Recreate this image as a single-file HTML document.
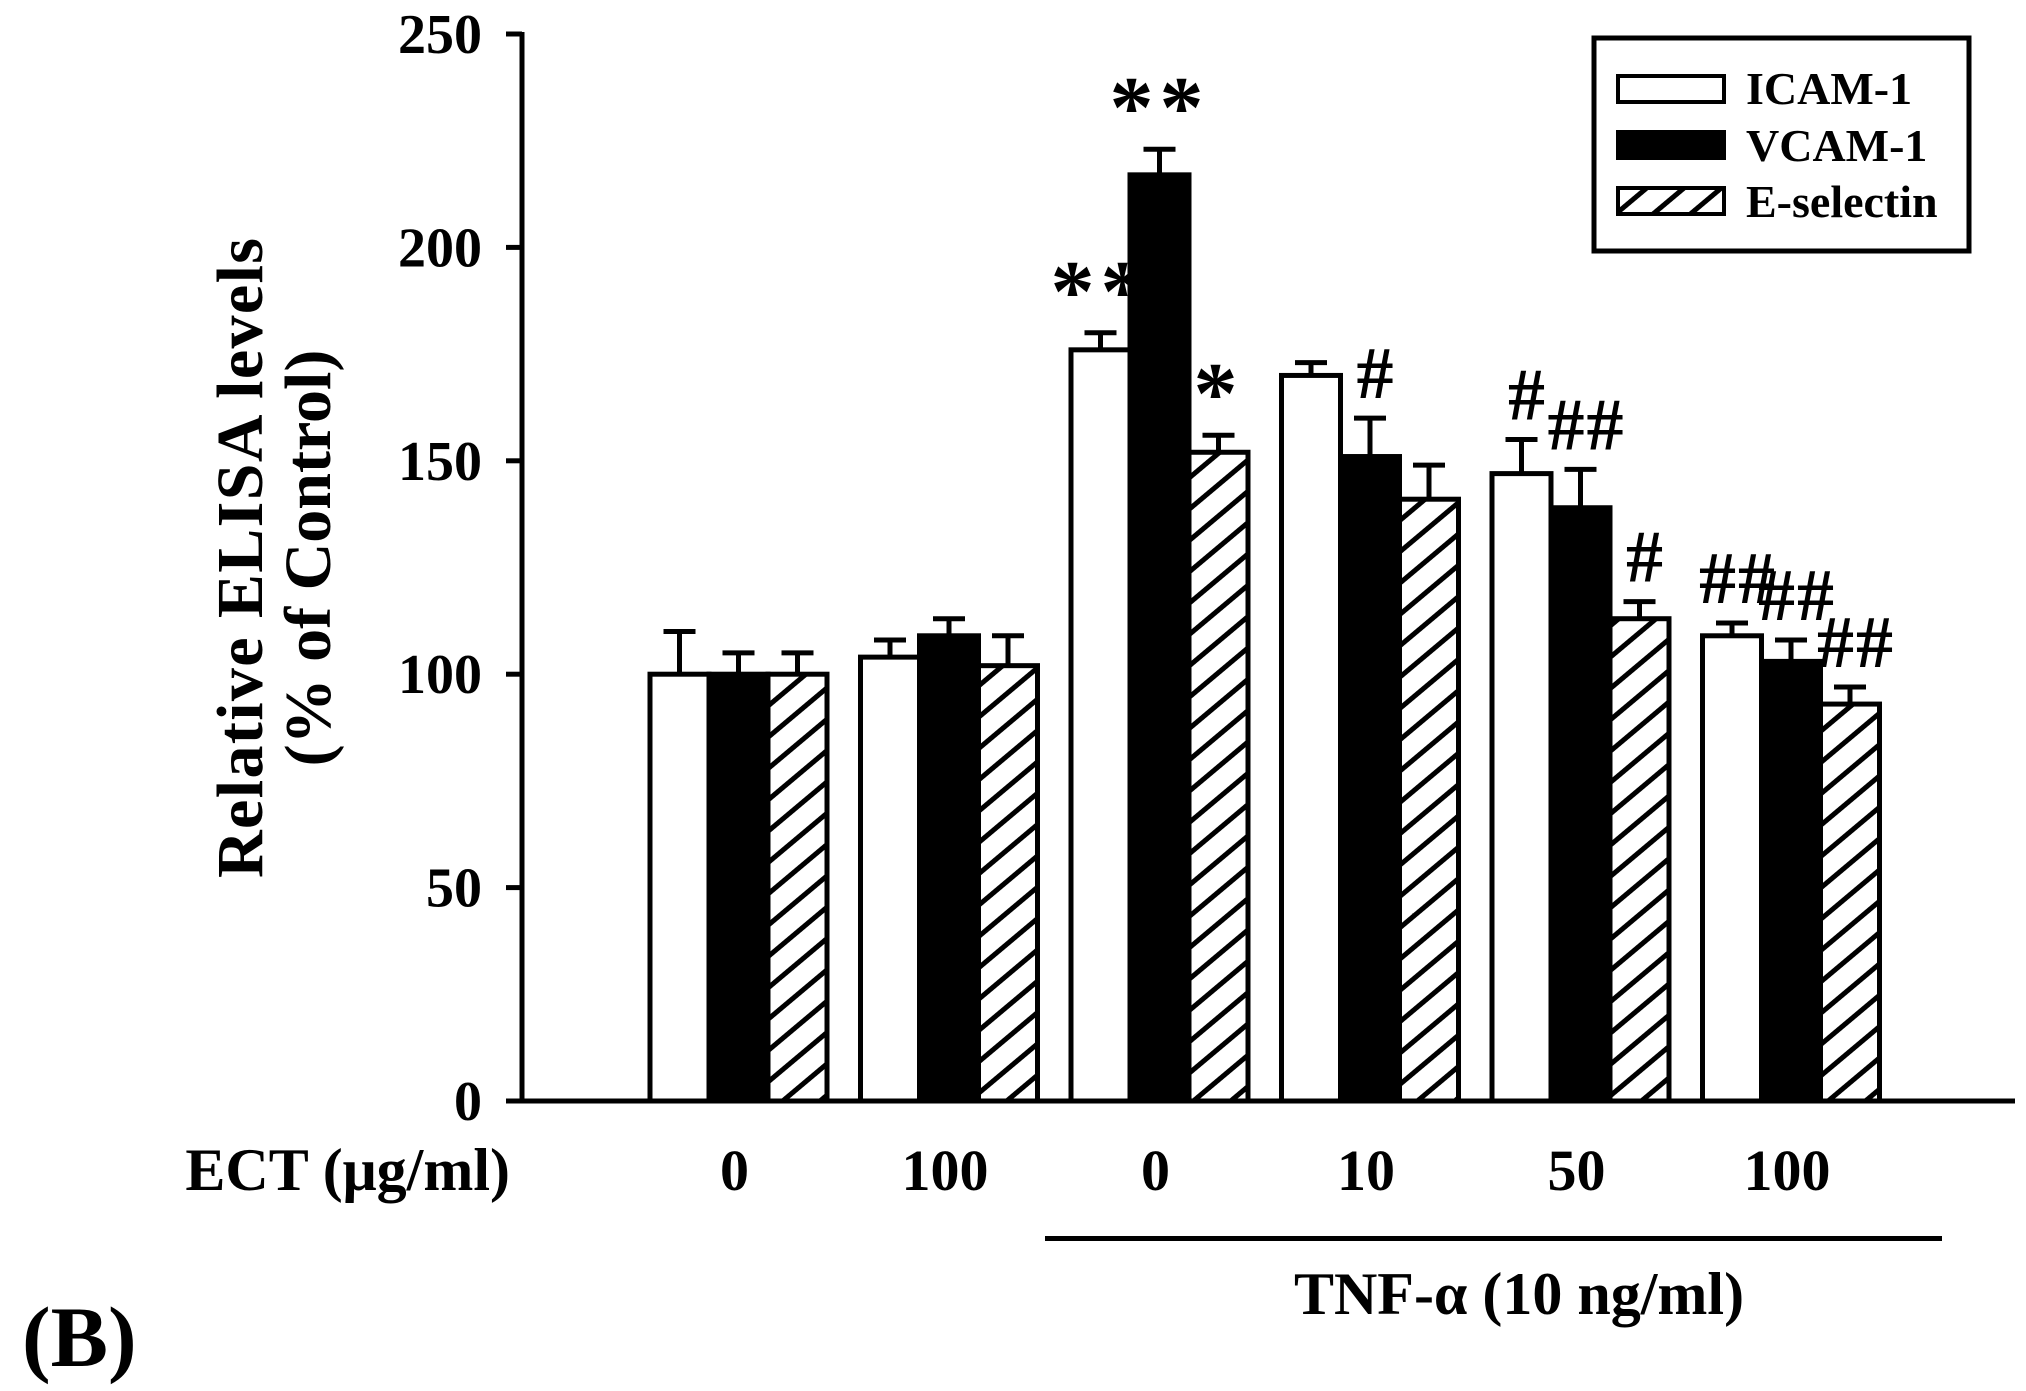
<!DOCTYPE html>
<html><head><meta charset="utf-8"><style>
html,body{margin:0;padding:0;background:#fff;}
svg{display:block;}
text{font-family:"Liberation Serif",serif;font-weight:bold;fill:#000;}
</style></head><body>
<svg id="chart" width="2026" height="1391" viewBox="0 0 2026 1391">
<defs>
<pattern id="hatch" patternUnits="userSpaceOnUse" width="24" height="24" patternTransform="rotate(-40)">
<rect width="24" height="24" fill="#fff"/>
<rect x="0" y="0" width="24" height="5" fill="#000"/>
</pattern>
</defs>
<g id="bars"></g>
<g id="axes"></g>
<g id="legend">
<rect x="1594" y="38" width="375" height="213" fill="#fff" stroke="#000" stroke-width="5"/>
<rect x="1618" y="76" width="106" height="26" fill="#fff" stroke="#000" stroke-width="4"/>
<text x="1746" y="104" font-size="46">ICAM-1</text>
<rect x="1618" y="132" width="106" height="26" fill="#000" stroke="#000" stroke-width="4"/>
<text x="1746" y="161" font-size="46">VCAM-1</text>
<rect x="1618" y="188" width="106" height="26" fill="url(#hatch)" stroke="#000" stroke-width="4"/>
<text x="1746" y="217" font-size="46">E-selectin</text>
</g>
<text transform="translate(262,558) rotate(-90)" text-anchor="middle" font-size="66" textLength="640">Relative ELISA levels</text>
<text transform="translate(330,558) rotate(-90)" text-anchor="middle" font-size="66">(% of Control)</text>
<text x="510" y="1190" text-anchor="end" font-size="60">ECT (μg/ml)</text>
<rect x="1045" y="1236" width="897" height="5" fill="#000"/>
<text x="1519" y="1314" text-anchor="middle" font-size="60">TNF-α (10 ng/ml)</text>
<text x="22" y="1366" font-size="86">(B)</text>
</svg>
<script>
const categories = ["0","100","0","10","50","100"];
const seriesNames = ["ICAM-1","VCAM-1","E-selectin"];
const icamValues = [100,104,176,170,147,109];
const vcamValues = [100,109,217,151,139,103];
const eselValues = [100,102,152,141,113,93];
const icamErr = [10,4,4,3,8,3];
const vcamErr = [5,4,6,9,9,5];
const eselErr = [5,7,4,8,4,4];
const icamSig = ["","","**","","#","##"];
const vcamSig = ["","","**","#","##","##"];
const eselSig = ["","","*","","#","##"];
const yTicks = [0,50,100,150,200,250];

const NS="http://www.w3.org/2000/svg";
const X0=522, Y0=1101, YTOP=34, YMAX=250;
const yScale=v=>Y0-(v/YMAX)*(Y0-YTOP);
const groupStart=i=>650+i*210.5;
const barW=59;
const xBar=(g,s)=>groupStart(g)+s*barW;
function mk(tag,attrs,parent){const e=document.createElementNS(NS,tag);for(const k in attrs)e.setAttribute(k,attrs[k]);parent.appendChild(e);return e;}
const bars=document.getElementById('bars');
const axes=document.getElementById('axes');
const vals=[icamValues,vcamValues,eselValues];
const errs=[icamErr,vcamErr,eselErr];
const sigs=[icamSig,vcamSig,eselSig];
const fills=["#fff","#000","url(#hatch)"];
const keys=["icam","vcam","eselectin"];
const sigLayer=[];
for(let s=0;s<3;s++){
  for(let g=0;g<categories.length;g++){
    const v=vals[s][g], x=xBar(g,s), y=yScale(v), cx=x+barW/2;
    const et=yScale(v+errs[s][g]);
    const ln=mk('line',{x1:cx,x2:cx,y1:y,y2:et,stroke:'#000','stroke-width':5},bars);
    
    
    const cap=mk('line',{x1:cx-16,x2:cx+16,y1:et,y2:et,stroke:'#000','stroke-width':5},bars);
    
    
    const r=mk('rect',{x:x,y:y,width:barW,height:Y0-y,fill:fills[s],stroke:'#000','stroke-width':5},bars);
    
    
    const lab=sigs[s][g];
    if(lab){
      const star=lab.indexOf('*')>=0;
      sigLayer.push({cx:cx,et:et,lab:lab,star:star,key:keys[s],g:g,s:s});
    }
  }
}
sigLayer.forEach(o=>{
  const t=document.createElementNS(NS,'text');
  t.setAttribute('x',o.cx+(o.star?0:6));
  t.setAttribute('y',o.star?o.et-12:o.et-20);
  t.setAttribute('text-anchor','middle');
  t.setAttribute('font-size',o.star?'88':'74');
  if(o.star){t.setAttribute('font-family','"Liberation Sans",sans-serif');t.setAttribute('letter-spacing','6');}
  else {t.setAttribute('letter-spacing','2');}
  t.textContent=o.lab;
  
  
  if(o.s===0) bars.insertBefore(t,bars.firstChild); else bars.appendChild(t);
});
const ya=mk('line',{x1:X0,x2:X0,y1:YTOP-2,y2:Y0+2,stroke:'#000','stroke-width':5},axes);


const xa=mk('line',{x1:X0,x2:2015,y1:Y0,y2:Y0,stroke:'#000','stroke-width':5},axes);


yTicks.forEach(v=>{
  const y=yScale(v);
  const tk=mk('line',{x1:X0-16,x2:X0,y1:y,y2:y,stroke:'#000','stroke-width':5},axes);
  
  
  const t=mk('text',{x:482,y:y+19,'text-anchor':'end','font-size':'56'},axes);
  t.textContent=v;
  
  
});
categories.forEach((c,g)=>{
  const t=mk('text',{x:groupStart(g)+1.5*barW-4,y:1190,'text-anchor':'middle','font-size':'58'},axes);
  t.textContent=c;
  
  
});
</script>
</body></html>
